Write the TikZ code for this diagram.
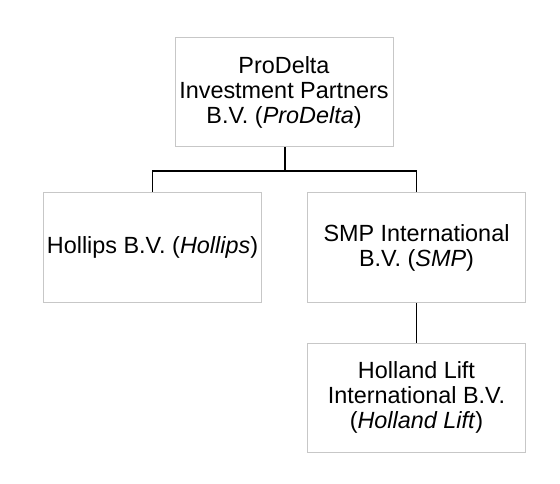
\documentclass[tikz,border=0pt]{standalone}
\usepackage{fontspec}
\setmainfont{Liberation Sans}
\begin{document}
\begin{tikzpicture}[x=1pt,y=-1pt,
  entity/.style={draw=black!22, line width=1pt, fill=white, align=center, inner sep=0pt,
    font=\fontsize{23.4}{25}\selectfont},
  link/.style={draw=black, line width=1.3pt}]
\useasboundingbox (0,0) rectangle (560,484);
\node[entity, minimum width=218pt, minimum height=109pt] (pd) at (284,92.5) {ProDelta\\Investment Partners\\B.V. (\textit{ProDelta})};
\node[entity, minimum width=218pt, minimum height=110pt] (ho) at (152.5,247.5) {Hollips B.V. (\textit{Hollips})};
\node[entity, minimum width=218pt, minimum height=110pt] (smp) at (416.5,247.5) {SMP International\\B.V. (\textit{SMP})};
\node[entity, minimum width=218pt, minimum height=109pt] (hl) at (416.5,397.5) {Holland Lift\\International B.V.\\(\textit{Holland Lift})};
\coordinate (j) at (285,171);
\draw[link] (pd.south -| j) -- (j);
\draw[link] (ho.north) |- (j) -| (smp.north);
\draw[link] (smp.south) -- (hl.north);
\end{tikzpicture}
\end{document}
